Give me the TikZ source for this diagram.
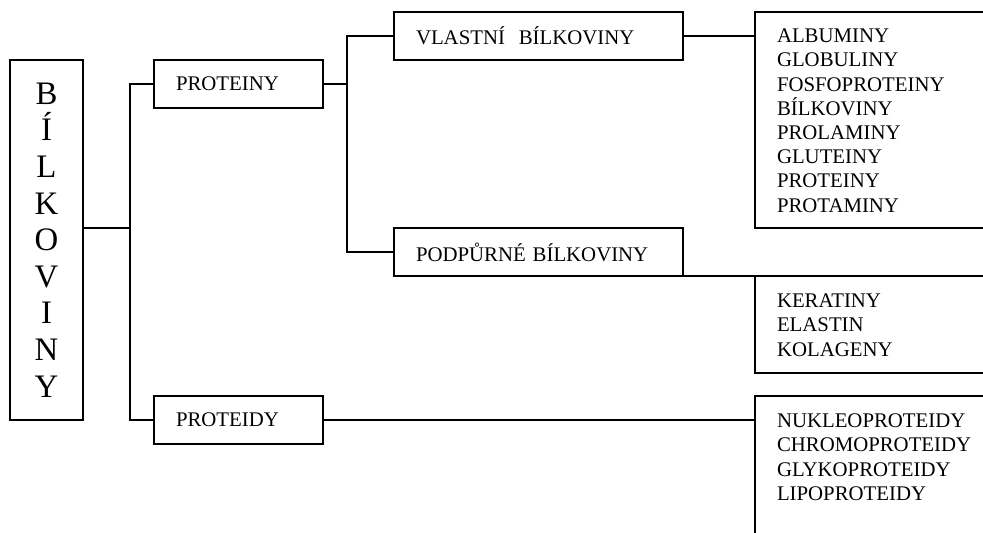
\documentclass[tikz,border=0pt]{standalone}
\usepackage{fontspec}
\setmainfont{Liberation Serif}
\usetikzlibrary{positioning}

\begin{document}
\begin{tikzpicture}[x=0.5pt, y=-0.5pt, line width=1pt,
  box/.style={draw, inner ysep=0pt, inner xsep=11pt, outer sep=0pt, minimum height=24pt, align=left, anchor=north west, font=\fontsize{10.4}{12.1}\selectfont},
  frame/.style={draw, inner sep=0pt, outer sep=0pt, anchor=north west, minimum width=130pt},
  list/.style={inner sep=0pt, align=left, font=\fontsize{10.4}{12.1}\selectfont}]
\useasboundingbox (0,0) rectangle (983,533);
\clip (0,0) rectangle (983,533);
\node[draw, anchor=north west, minimum width=36.5pt, minimum height=180pt, inner sep=0pt, outer sep=0pt, align=center, font=\fontsize{16.4}{18.3}\selectfont] (bil) at (10,60) {B\\Í\\L\\K\\O\\V\\I\\N\\Y};
\node[box, text width=62.5pt] (pro) at (154,60) {PROTEINY};
\node[box, text width=62.5pt] (pid) at (154,396) {PROTEIDY};
\node[box, text width=122.5pt] (vb) at (394,12) {VLASTNÍ\ \ BÍLKOVINY};
\node[box, text width=122.5pt] (pb) at (394,228) {PODPŮRNÉ BÍLKOVINY};
\node[frame, minimum height=108pt] (alb) at (755,12) {};
\node[frame, minimum height=48.5pt] (ker) at (755,276) {};
\node[frame, minimum height=80pt] (nuk) at (755,396) {};
\node[list, below right=8pt and 10.5pt of alb.north west] (albl) {ALBUMINY\\GLOBULINY\\FOSFOPROTEINY\\BÍLKOVINY\\PROLAMINY\\GLUTEINY\\PROTEINY\\PROTAMINY};
\node[list, below right=8.5pt and 10.5pt of ker.north west] (kerl) {KERATINY\\ELASTIN\\KOLAGENY};
\node[list, below right=8.5pt and 10.5pt of nuk.north west] (nukl) {NUKLEOPROTEIDY\\CHROMOPROTEIDY\\GLYKOPROTEIDY\\LIPOPROTEIDY};
\coordinate (j1) at (130,228);
\coordinate (j2) at (347,84);
\draw (j1 -| bil.east) -- (j1);
\draw (pro.west) -| (j1) |- (pid.west);
\draw (pro.east) -- (j2);
\draw (vb.west) -| (j2) |- (pb.west);
\draw (vb.east) -- (vb.east -| alb.west);
\draw (pb.south east) -- (ker.north west);
\draw (pid.east) -- (pid.east -| nuk.west);
\end{tikzpicture}
\end{document}
